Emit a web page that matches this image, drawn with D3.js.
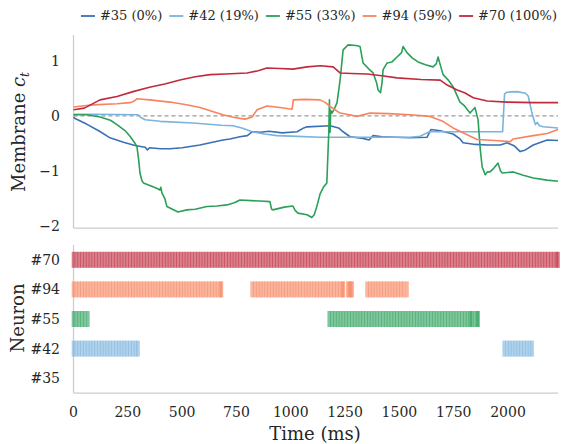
<!DOCTYPE html>
<html>
<head>
<meta charset="utf-8">
<script src="https://cdn.jsdelivr.net/npm/d3@7"></script>
<style>
  body { margin: 0; background: #fff; }
  text { font-family: "DejaVu Serif", serif; fill: #262626; }
</style>
</head>
<body>
<script>
// svg size
var svgWidth = 567;
var svgHeight = 444;

// neurons, top of raster first
var neurons = ["#70", "#94", "#55", "#42", "#35"];
var legendOrder = ["#35", "#42", "#55", "#94", "#70"];
var legendPct = {"#35": "0%", "#42": "19%", "#55": "33%", "#94": "59%", "#70": "100%"};
var colors = {"#35": "#3a70b4", "#42": "#7ab3dc", "#55": "#2ca05a", "#94": "#f7845e", "#70": "#c02a3e"};

var xTicks = [0, 250, 500, 750, 1000, 1250, 1500, 1750, 2000];
var yTicks = [1, 0, -1, -2];

// membrane traces [time ms, value]
var mem35 = [[0,-0.02],[7,-0.05],[60,-0.15],[120,-0.28],[168,-0.4],[230,-0.48],[283,-0.54],[330,-0.57],[340,-0.62],[350,-0.58],[400,-0.6],[444,-0.6],[500,-0.58],[582,-0.53],[640,-0.48],[688,-0.44],[720,-0.42],[766,-0.38],[800,-0.36],[822,-0.29],[860,-0.3],[900,-0.28],[960,-0.31],[1029,-0.29],[1060,-0.22],[1075,-0.2],[1181,-0.18],[1220,-0.22],[1241,-0.29],[1273,-0.38],[1333,-0.41],[1360,-0.44],[1379,-0.36],[1420,-0.38],[1480,-0.39],[1549,-0.4],[1627,-0.39],[1645,-0.25],[1688,-0.27],[1747,-0.33],[1779,-0.42],[1793,-0.49],[1850,-0.52],[1904,-0.53],[1964,-0.53],[1996,-0.49],[2030,-0.55],[2056,-0.65],[2080,-0.62],[2116,-0.53],[2180,-0.44],[2230,-0.45]];
var mem42 = [[0,0.03],[100,0.03],[297,0.02],[310,-0.03],[330,-0.07],[398,-0.1],[550,-0.13],[680,-0.17],[734,-0.18],[775,-0.22],[822,-0.29],[880,-0.33],[937,-0.36],[1000,-0.37],[1135,-0.39],[1181,-0.39],[1300,-0.39],[1400,-0.39],[1549,-0.39],[1595,-0.37],[1627,-0.31],[1641,-0.29],[1700,-0.29],[1800,-0.29],[1900,-0.29],[1975,-0.29],[1984,0.4],[1995,0.43],[2042,0.44],[2080,0.41],[2093,0.36],[2110,0.05],[2116,-0.03],[2126,-0.16],[2134,-0.12],[2145,-0.18],[2162,-0.2],[2230,-0.22]];
var mem55 = [[0,0.02],[60,0.02],[122,-0.02],[170,-0.08],[200,-0.16],[240,-0.28],[260,-0.37],[280,-0.48],[292,-0.56],[300,-0.8],[306,-1.04],[315,-1.18],[322,-1.22],[366,-1.29],[390,-1.33],[398,-1.35],[402,-1.3],[407,-1.4],[420,-1.5],[430,-1.65],[455,-1.7],[481,-1.75],[522,-1.71],[560,-1.7],[614,-1.65],[660,-1.64],[706,-1.62],[740,-1.58],[766,-1.53],[858,-1.55],[904,-1.56],[912,-1.7],[918,-1.71],[970,-1.66],[1010,-1.64],[1020,-1.72],[1033,-1.77],[1075,-1.8],[1097,-1.85],[1108,-1.8],[1120,-1.65],[1135,-1.42],[1150,-1.3],[1166,-1.22],[1172,-0.6],[1175,-0.3],[1178,0.29],[1181,-0.3],[1184,0.1],[1190,0.05],[1200,0.12],[1213,0.24],[1227,0.65],[1241,1.2],[1264,1.29],[1300,1.28],[1319,1.26],[1333,0.96],[1360,0.85],[1379,0.78],[1395,0.6],[1402,0.47],[1413,0.42],[1420,0.6],[1425,0.84],[1443,0.96],[1466,0.98],[1489,1.07],[1510,1.15],[1517,1.26],[1535,1.15],[1560,1.05],[1586,0.98],[1620,0.93],[1655,0.89],[1670,0.95],[1678,1.07],[1690,0.9],[1701,0.75],[1725,0.65],[1747,0.53],[1779,0.25],[1800,0.18],[1825,0.05],[1848,0.15],[1862,-0.07],[1872,-0.6],[1881,-0.93],[1895,-1.07],[1905,-1.02],[1917,-1.02],[1935,-0.95],[1954,-0.86],[1965,-1.0],[1973,-1.04],[2024,-1.02],[2070,-1.08],[2116,-1.13],[2180,-1.17],[2230,-1.19]];
var mem94 = [[0,0.16],[40,0.18],[90,0.2],[200,0.22],[260,0.24],[280,0.27],[292,0.31],[350,0.29],[444,0.25],[520,0.2],[582,0.15],[640,0.08],[688,0.02],[740,-0.03],[790,-0.06],[822,-0.02],[845,0.11],[891,0.18],[950,0.15],[1006,0.12],[1012,0.29],[1060,0.3],[1135,0.29],[1160,0.24],[1181,0.17],[1227,0.05],[1270,0.02],[1305,-0.01],[1365,0.05],[1450,0.04],[1549,0.02],[1641,-0.01],[1700,-0.1],[1747,-0.22],[1800,-0.32],[1858,-0.43],[1940,-0.45],[2010,-0.47],[2024,-0.42],[2116,-0.36],[2180,-0.32],[2230,-0.25]];
var mem70 = [[0,0.11],[50,0.14],[122,0.29],[200,0.35],[274,0.44],[350,0.52],[420,0.58],[490,0.65],[560,0.71],[629,0.75],[700,0.76],[799,0.78],[850,0.82],[890,0.87],[950,0.86],[1010,0.85],[1075,0.89],[1135,0.91],[1195,0.89],[1227,0.78],[1280,0.77],[1351,0.76],[1420,0.73],[1489,0.69],[1600,0.66],[1688,0.65],[1720,0.56],[1766,0.47],[1800,0.42],[1840,0.33],[1904,0.27],[1996,0.25],[2116,0.24],[2230,0.24]];

// spiking periods [start ms, end ms]
var spikePeriod = 13;
var bursts70 = [[0, 2230]];
var bursts94 = [[0, 681], [822, 1242], [1262, 1270], [1276, 1283], [1351, 1535]];
var bursts55 = [[0, 66], [1177, 1826], [1833, 1862]];
var bursts42 = [[0, 297], [1982, 2111]];
var bursts35 = [];

var memData = {"#35": mem35, "#42": mem42, "#55": mem55, "#94": mem94, "#70": mem70};
var burstData = {"#35": bursts35, "#42": bursts42, "#55": bursts55, "#94": bursts94, "#70": bursts70};

var svg = d3.select("body").append("svg")
  .attr("width", svgWidth)
  .attr("height", svgHeight);

var left = 73.5, right = 558;
var xScale = d3.scaleLinear().domain([0, 2230]).range([left, right]);

// ---- top panel: membrane
var yTop = d3.scaleLinear().domain([-2.04, 1.47]).range([228, 35]);

var memGroup = svg.append("g");
memGroup.append("line")
  .attr("x1", left).attr("x2", left).attr("y1", 35).attr("y2", 228)
  .attr("stroke", "#cccccc").attr("stroke-width", 1.25);
memGroup.append("line")
  .attr("x1", left).attr("x2", right).attr("y1", 228).attr("y2", 228)
  .attr("stroke", "#cccccc").attr("stroke-width", 1.25);

memGroup.append("line")
  .attr("x1", left).attr("x2", right)
  .attr("y1", yTop(0)).attr("y2", yTop(0))
  .attr("stroke", "#999").attr("stroke-width", 1.1)
  .attr("stroke-dasharray", "4,3");

memGroup.selectAll(".ytick").data(yTicks).enter().append("text")
  .attr("x", 60).attr("y", d => yTop(d))
  .attr("dy", "0.35em")
  .attr("text-anchor", "end")
  .style("font-size", "14px")
  .text(d => d < 0 ? "\u2212" + Math.abs(d) : d);

var line = d3.line().x(d => xScale(d[0])).y(d => yTop(d[1]));
legendOrder.forEach(function(n) {
  memGroup.append("path")
    .datum(memData[n])
    .attr("d", line)
    .attr("fill", "none")
    .attr("stroke", colors[n])
    .attr("stroke-width", 1.6)
    .attr("stroke-linejoin", "round");
});

var yLab = svg.append("text")
  .attr("transform", "translate(25,132) rotate(-90)")
  .attr("text-anchor", "middle")
  .style("font-size", "18px");
yLab.append("tspan").text("Membrane ");
yLab.append("tspan").style("font-style", "italic").text("c");
yLab.append("tspan").style("font-style", "italic").style("font-size", "12px").attr("dy", 4).text("t");

// ---- bottom panel: raster
var yBot = d3.scaleLinear().domain([-0.5, 4.5]).range([393, 245]);
var rasterGroup = svg.append("g");
rasterGroup.append("line")
  .attr("x1", left).attr("x2", left).attr("y1", 245).attr("y2", 393)
  .attr("stroke", "#cccccc").attr("stroke-width", 1.25);
rasterGroup.append("line")
  .attr("x1", left).attr("x2", right).attr("y1", 393).attr("y2", 393)
  .attr("stroke", "#cccccc").attr("stroke-width", 1.25);

neurons.forEach(function(n, i) {
  var row = neurons.length - 1 - i;
  var spikes = [];
  burstData[n].forEach(function(b) {
    d3.range(b[0], b[1] - 2, spikePeriod).forEach(t => spikes.push(t));
    spikes.push(b[1]);
  });
  rasterGroup.selectAll(".sp" + i).data(spikes).enter().append("line")
    .attr("x1", d => xScale(d)).attr("x2", d => xScale(d))
    .attr("y1", yBot(row) - 8).attr("y2", yBot(row) + 8)
    .attr("stroke", colors[n])
    .attr("stroke-width", 3.6)
    .attr("stroke-opacity", 0.6);
  rasterGroup.append("text")
    .attr("x", 60).attr("y", yBot(row))
    .attr("dy", "0.35em")
    .attr("text-anchor", "end")
    .style("font-size", "14px")
    .text(n);
});

rasterGroup.selectAll(".xtick").data(xTicks).enter().append("text")
  .attr("x", d => xScale(d)).attr("y", 417)
  .attr("text-anchor", "middle")
  .style("font-size", "14px")
  .text(d => d);

svg.append("text")
  .attr("x", 315).attr("y", 440)
  .attr("text-anchor", "middle")
  .style("font-size", "18px")
  .text("Time (ms)");

svg.append("text")
  .attr("transform", "translate(24,318) rotate(-90)")
  .attr("text-anchor", "middle")
  .style("font-size", "18px")
  .text("Neuron");

// ---- legend, laid out right to left
var legend = svg.append("g");
var lx = 557;
legendOrder.slice().reverse().forEach(function(n) {
  var t = legend.append("text")
    .attr("y", 20)
    .style("font-size", "13px")
    .text(n + " (" + legendPct[n] + ")");
  var w = t.node().getComputedTextLength();
  t.attr("x", lx - w);
  legend.append("line")
    .attr("x1", lx - w - 19).attr("x2", lx - w - 5)
    .attr("y1", 16).attr("y2", 16)
    .attr("stroke", colors[n]).attr("stroke-width", 1.8);
  lx = lx - w - 26;
});
</script>
</body>
</html>
